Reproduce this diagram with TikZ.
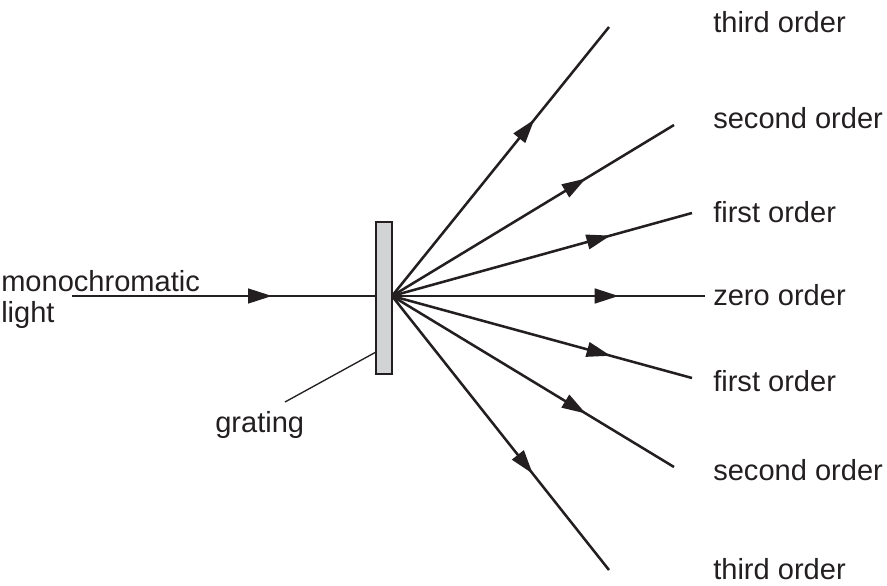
\documentclass[tikz,border=0pt]{standalone}
\usepackage{fontspec}
\setmainfont{Liberation Sans}
\usetikzlibrary{arrows.meta,decorations.markings}
\definecolor{ink}{HTML}{231F20}
\definecolor{grat}{HTML}{D1D3D4}
\begin{document}
\begin{tikzpicture}[x=0.75pt,y=-0.75pt,
  ray/.style={color=ink,line width=1.9pt,postaction={decorate},
    decoration={markings,mark=at position #1 with {\arrow{Triangle[length=18pt,width=11pt]}}}},
  lab/.style={anchor=base west,inner sep=0pt,text=ink,font=\fontsize{21.8pt}{25pt}\selectfont},
  gratbox/.style={draw=ink,fill=grat,line width=1.5pt,minimum width=12pt,minimum height=114pt,inner sep=0pt},
  leader/.style={draw=ink,line width=1pt}]
\useasboundingbox (0,0) rectangle (887,585);
\coordinate (s) at (392,296);
\coordinate (in) at (72,296);
\coordinate (t3u) at (609,27);
\coordinate (t2u) at (674,125);
\coordinate (t1u) at (692,213);
\coordinate (z) at (705,296);
\coordinate (t1d) at (692,378);
\coordinate (t2d) at (674,467);
\coordinate (t3d) at (609,570);
\draw[ray=150pt] (in) -- (s);
\foreach \e in {t3u,t2u,t1u,z,t1d,t2d,t3d}{
  \draw[ray=170pt] (s) -- (\e);
}
\node[gratbox] (grating) at (384,298) {};
\coordinate (la) at (376,352);
\coordinate (lb) at (285,402);
\draw[leader] (la) -- (lb);
\node[lab] (l3u) at (713,33) {third order};
\node[lab] (l2u) at (713,128) {second order};
\node[lab] (l1u) at (713,222) {first order};
\node[lab] (lz) at (713,305) {zero order};
\node[lab] (l1d) at (713,391) {first order};
\node[lab] (l2d) at (713,480) {second order};
\node[lab] (l3d) at (713,579) {third order};
\node[lab] (mono) at (1,291) {monochromatic};
\node[lab] (light) at (1,322) {light};
\node[lab] (glab) at (215,432) {grating};
\end{tikzpicture}
\end{document}
